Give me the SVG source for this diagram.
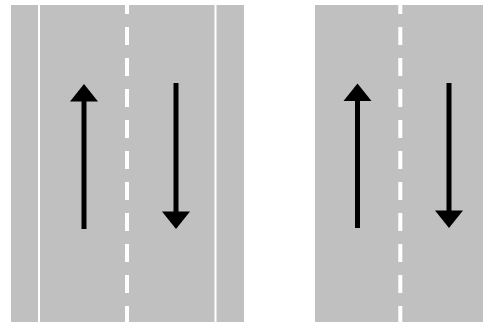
<svg xmlns="http://www.w3.org/2000/svg" width="483" height="322" viewBox="0 0 483 322">
  <style>
    .road { fill: #c0c0c0; }
    .edge { stroke: #ffffff; stroke-width: 2; fill: none; }
    .center { stroke: #ffffff; stroke-width: 4; stroke-dasharray: 18 13; fill: none; }
    .shaft { stroke: #000000; stroke-width: 5; fill: none; }
    .head { fill: #000000; }
  </style>
  <rect width="483" height="322" fill="#ffffff"/>

  <!-- Four-lane road with outer edge lines -->
  <g id="road-wide">
    <rect class="road" x="11" y="5" width="233" height="317"/>
    <line class="edge" x1="39" y1="5" x2="39" y2="322"/>
    <line class="edge" x1="215.5" y1="5" x2="215.5" y2="322"/>
    <line class="center" x1="127" y1="-4" x2="127" y2="322"/>
  </g>

  <!-- Two-lane road -->
  <g id="road-narrow">
    <rect class="road" x="315" y="5" width="168" height="317"/>
    <line class="center" x1="400.3" y1="-4" x2="400.3" y2="322"/>
  </g>

  <!-- Direction arrows -->
  <g id="connectors">
    <g id="wide-up">
      <line class="shaft" x1="84" y1="100" x2="84" y2="229"/>
      <polygon class="head" points="84,84 98,101.5 70,101.5"/>
    </g>
    <g id="wide-down">
      <line class="shaft" x1="176" y1="83" x2="176" y2="213"/>
      <polygon class="head" points="176,229 162,211.5 190,211.5"/>
    </g>
    <g id="narrow-up">
      <line class="shaft" x1="357.5" y1="100" x2="357.5" y2="228"/>
      <polygon class="head" points="357.5,83.5 371.5,101 343.5,101"/>
    </g>
    <g id="narrow-down">
      <line class="shaft" x1="449" y1="83" x2="449" y2="212"/>
      <polygon class="head" points="449,228 435,210.5 463,210.5"/>
    </g>
  </g>
</svg>
